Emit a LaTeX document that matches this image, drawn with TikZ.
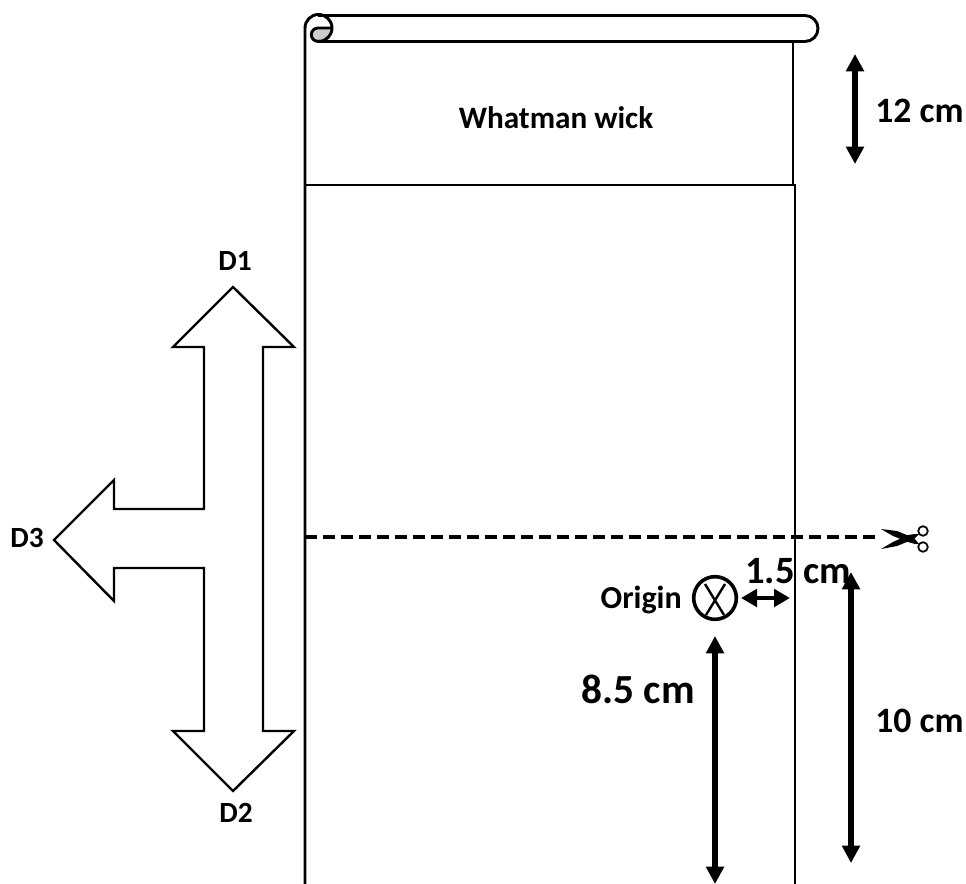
\documentclass[tikz,border=0pt]{standalone}
\usepackage{fontspec}
\setmainfont{Carlito}
\usetikzlibrary{arrows.meta}
\tikzset{
  outline/.style={draw=black,line width=1.8pt,line join=miter},
  thin line/.style={draw=black,line width=1.8pt},
  dim/.style={line width=4.5pt,{Triangle[length=13pt,width=13pt]}-{Triangle[length=13pt,width=13pt]}},
  dimsmall/.style={line width=3.6pt,{Triangle[length=12pt,width=13pt]}-{Triangle[length=12pt,width=13pt]}},
  biglabel/.style={font=\bfseries\fontsize{26.8}{30}\selectfont,inner sep=0pt},
  smalllabel/.style={font=\bfseries\fontsize{22}{26}\selectfont,inner sep=0pt},
}
\begin{document}
\begin{tikzpicture}[x=0.75pt,y=-0.75pt]
\useasboundingbox (0,0) rectangle (966,884);
% roll
\fill[black!20] (332,28) -- (318,28) arc[start angle=270,end angle=90,radius=6.5] -- (322,41) arc[start angle=70,end angle=0,radius=14] -- cycle;
\draw[outline,line width=2.2pt] (305,884) -- (305,28) arc[start angle=180,end angle=450,radius=13.5] -- (805,41.5) arc[start angle=90,end angle=-90,radius=13] -- (318,15.5);
\draw[outline,line width=2.2pt] (331.5,28) -- (318,28) arc[start angle=270,end angle=90,radius=6.7] -- (322,41.4);
% paper
\draw[thin line] (793,41) -- (793,185);
\coordinate (wl) at (305,185);
\coordinate (wr) at (795,185);
\draw[thin line] (wl) -- (wr) -- (795,884);
\node[font=\bfseries\fontsize{23.4}{28}\selectfont,inner sep=0pt] (wick) at (556,118) {Whatman wick};
% block arrows
\draw[outline] (263,347) -- (294,347) -- (233,287) -- (173,347) -- (204,347) -- (204,509) -- (114,509) -- (114,480) -- (54,540) -- (114,601) -- (114,568) -- (204,568) -- (204,731) -- (173,731) -- (233,791) -- (294,731) -- (263,731) -- cycle;
\node[smalllabel] (d1) at (235,261) {D1};
\node[smalllabel] (d2) at (236,813) {D2};
\node[smalllabel] (d3) at (27,538) {D3};
% cut line
\coordinate (cutl) at (305,537);
\coordinate (cutr) at (880,537);
\draw[line width=2.8pt,dash pattern=on 9pt off 4.5pt] (cutl) -- (cutr);
% scissors
\fill (881,529) -- (897,531) -- (914,538) -- (919,544) -- (915,544) -- (908,542) -- (893,536) -- cycle;
\fill (881,549) -- (897,546) -- (914,539) -- (919,534) -- (915,534) -- (908,535) -- (893,542) -- cycle;
\draw[line width=1.3pt,fill=white] (923,531) circle[radius=4.8];
\draw[line width=1.3pt,fill=white] (923,547) circle[radius=4.8];
% origin
\node[draw,circle,line width=2.7pt,minimum size=32pt,inner sep=0pt] (orig) at (715,598) {};
\draw[line width=1.8pt] (705,584) -- (724,615) (725,584) -- (706,615);
\node[font=\bfseries\fontsize{24}{28}\selectfont,inner sep=0pt,anchor=east] (origin) at (682,600) {Origin};
% dimensions
\coordinate (a1) at (855,54); \coordinate (a2) at (855,164);
\draw[dim] (a1) -- (a2);
\node[biglabel,anchor=west] (l12) at (875,111) {12 cm};
\coordinate (b1) at (741,598); \coordinate (b2) at (790,598);
\draw[dimsmall] (b1) -- (b2);
\node[font=\bfseries\fontsize{29}{34}\selectfont,inner sep=0pt,anchor=west] (l15) at (745,571) {1.5 cm};
\coordinate (c1) at (851,572); \coordinate (c2) at (851,863);
\draw[dim] (c1) -- (c2);
\node[biglabel,anchor=west] (l10) at (875,721) {10 cm};
\coordinate (e1) at (715,636); \coordinate (e2) at (715,884);
\draw[dim] (e1) -- (e2);
\node[font=\bfseries\fontsize{31}{36}\selectfont,inner sep=0pt,anchor=east] (l85) at (695,689) {8.5 cm};
\end{tikzpicture}
\end{document}
